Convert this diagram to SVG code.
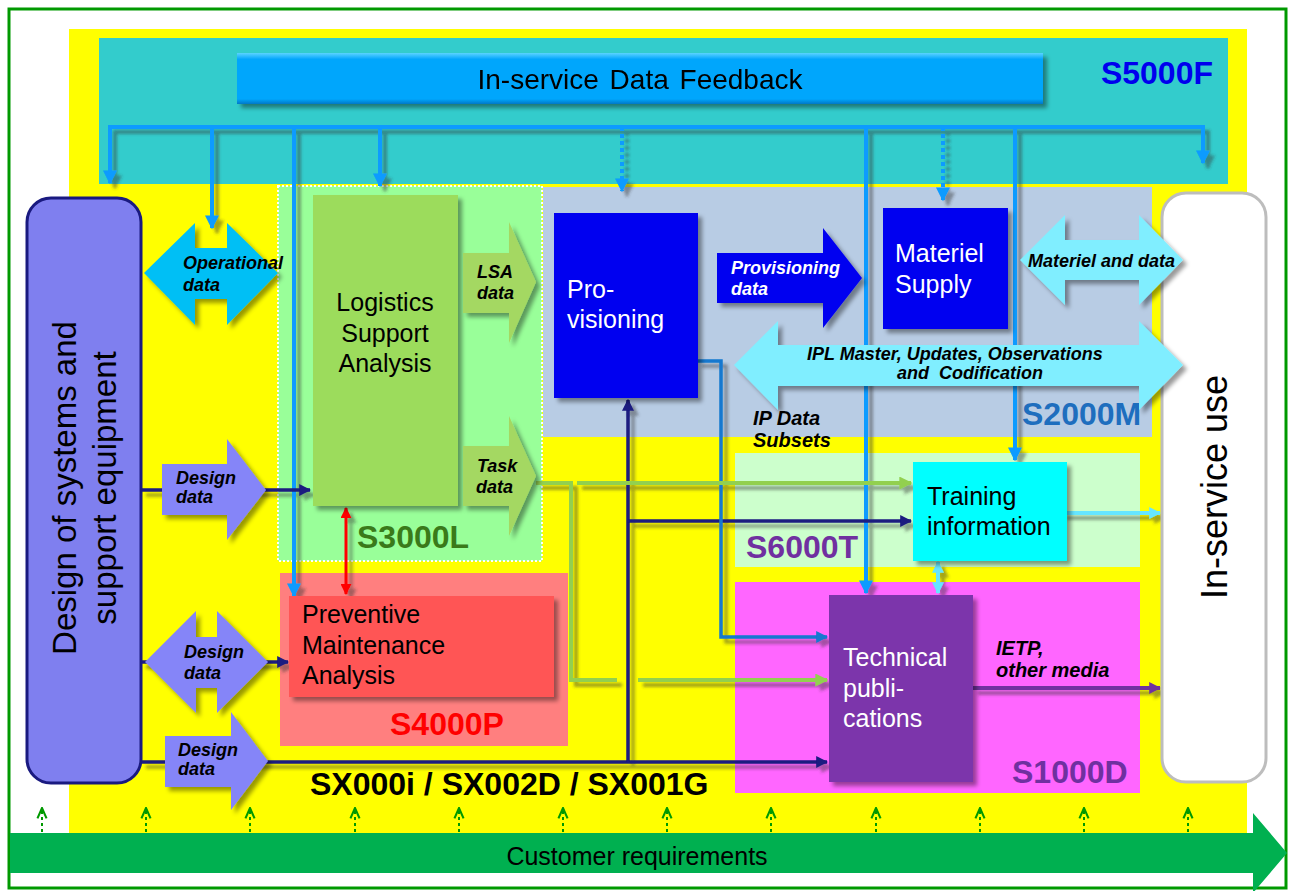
<svg xmlns="http://www.w3.org/2000/svg" width="1293" height="891" viewBox="0 0 1293 891">
<style>
text{font-family:"Liberation Sans",Arial,sans-serif}
.bi{font-weight:bold;font-style:italic;font-size:18px;fill:#000}
.box{font-size:25px}
.std{font-weight:bold;font-size:32px}
.fb{fill:none;stroke:#0A9BFF;stroke-width:4}
.nv{fill:none;stroke:#1A1A80;stroke-width:3.5}
.gr{fill:none;stroke:#92D050;stroke-width:4}
.cr{fill:none;stroke:#009900;stroke-width:2;stroke-dasharray:3 3}
</style>
<defs>
<filter id="sh" filterUnits="userSpaceOnUse" x="0" y="0" width="1293" height="891">
<feDropShadow dx="4" dy="4" stdDeviation="2" flood-color="#000" flood-opacity="0.4"/>
</filter>
<filter id="lsh" filterUnits="userSpaceOnUse" x="0" y="0" width="1293" height="891">
<feDropShadow dx="5" dy="5" stdDeviation="1.8" flood-color="#333" flood-opacity="0.45"/>
</filter>
<linearGradient id="barG" x1="0" y1="0" x2="0" y2="1">
<stop offset="0" stop-color="#5AD4FF"/><stop offset="0.12" stop-color="#05A6FC"/><stop offset="0.9" stop-color="#05A6FC"/><stop offset="1" stop-color="#0478C8"/>
</linearGradient>
<marker id="aFb" viewBox="0 0 10 10" refX="9" refY="5" markerWidth="14" markerHeight="14" markerUnits="userSpaceOnUse" orient="auto-start-reverse"><path d="M0,0 L10,5 L0,10 z" fill="#0A9BFF"/></marker>
<marker id="aNv" viewBox="0 0 10 10" refX="9" refY="5" markerWidth="12" markerHeight="12" markerUnits="userSpaceOnUse" orient="auto-start-reverse"><path d="M0,0 L10,5 L0,10 z" fill="#1A1A80"/></marker>
<marker id="aBl" viewBox="0 0 10 10" refX="9" refY="5" markerWidth="12" markerHeight="12" markerUnits="userSpaceOnUse" orient="auto-start-reverse"><path d="M0,0 L10,5 L0,10 z" fill="#1278CF"/></marker>
<marker id="aGr" viewBox="0 0 10 10" refX="9" refY="5" markerWidth="13" markerHeight="13" markerUnits="userSpaceOnUse" orient="auto-start-reverse"><path d="M0,0 L10,5 L0,10 z" fill="#92D050"/></marker>
<marker id="aRd" viewBox="0 0 10 10" refX="9" refY="5" markerWidth="11" markerHeight="11" markerUnits="userSpaceOnUse" orient="auto-start-reverse"><path d="M0,0 L10,5 L0,10 z" fill="#FF0000"/></marker>
<marker id="aCy" viewBox="0 0 10 10" refX="9" refY="5" markerWidth="12" markerHeight="12" markerUnits="userSpaceOnUse" orient="auto-start-reverse"><path d="M0,0 L10,5 L0,10 z" fill="#66E6FF"/></marker>
<marker id="aPu" viewBox="0 0 10 10" refX="9" refY="5" markerWidth="12" markerHeight="12" markerUnits="userSpaceOnUse" orient="auto-start-reverse"><path d="M0,0 L10,5 L0,10 z" fill="#7030A0"/></marker>
<marker id="aUp" viewBox="0 0 10 10" refX="9" refY="5" markerWidth="13" markerHeight="13" markerUnits="userSpaceOnUse" orient="auto"><path d="M1,1.5 L9,5 L1,8.5" fill="none" stroke="#009900" stroke-width="1.6"/></marker>
</defs>

<!-- backgrounds and regions -->
<rect x="0" y="0" width="1293" height="891" fill="#FFFFFF"/>
<rect x="9" y="9" width="1277" height="879" fill="none" stroke="#009900" stroke-width="3"/>
<rect x="69" y="29" width="1178" height="805" fill="#FFFF00"/>
<g id="region-S5000F">
<rect x="99" y="38" width="1129" height="146" fill="#33CCCC"/>
<text x="1213" y="84" class="std" fill="#0000EE" text-anchor="end">S5000F</text>
</g>
<g id="region-S3000L">
<rect x="278" y="186" width="264" height="375" fill="#99FF99" stroke="#FFFFFF" stroke-width="2" stroke-dasharray="2 2"/>
<text x="357" y="548" class="std" fill="#3A7A1A">S3000L</text>
</g>
<g id="region-S2000M">
<rect x="543" y="187" width="609" height="250" fill="#B8CCE4"/>
<text x="1022" y="425" class="std" fill="#1E6EBE">S2000M</text>
</g>
<g id="region-S4000P">
<rect x="280" y="573" width="288" height="173" fill="#FF7F7F"/>
<text x="390" y="735" class="std" fill="#FF0000">S4000P</text>
</g>
<g id="region-S6000T">
<rect x="735" y="453" width="405" height="114" fill="#CCFFCC"/>
<text x="746" y="558" class="std" fill="#7030A0">S6000T</text>
</g>
<g id="region-S1000D">
<rect x="735" y="582" width="405" height="211" fill="#FF66FF"/>
<text x="1012" y="783" class="std" fill="#7030A0">S1000D</text>
</g>
<text x="310" y="795" font-weight="bold" font-size="32" fill="#000">SX000i / SX002D / SX001G</text>

<!-- connectors -->
<g id="connectors" filter="url(#lsh)">
<path class="fb" d="M108,127 H1203"/>
<path class="fb" d="M110,127 V183" marker-end="url(#aFb)"/>
<path class="fb" d="M212,127 V228" marker-end="url(#aFb)"/>
<path class="fb" d="M294,127 V596" marker-end="url(#aFb)"/>
<path class="fb" d="M380,127 V186" marker-end="url(#aFb)"/>
<path class="fb" d="M622,127 V191" stroke-dasharray="4 3" marker-end="url(#aFb)"/>
<path class="fb" d="M866,127 V593" marker-end="url(#aFb)"/>
<path class="fb" d="M943,127 V200" stroke-dasharray="4 3" marker-end="url(#aFb)"/>
<path class="fb" d="M1015,127 V460" marker-end="url(#aFb)"/>
<path class="fb" d="M1203,125 V163" marker-end="url(#aFb)"/>

<path class="nv" d="M141,490 H310" marker-end="url(#aNv)"/>
<path class="nv" d="M141,662 H288" marker-end="url(#aNv)"/>
<path class="nv" d="M141,762 H827" marker-end="url(#aNv)"/>
<path class="nv" d="M628,762 V400" marker-end="url(#aNv)"/>
<path class="nv" d="M628,521 H911" marker-end="url(#aNv)"/>

<path d="M697,361 H721 V637 H827" fill="none" stroke="#1278CF" stroke-width="3.5" marker-end="url(#aBl)"/>

<path class="gr" d="M536,483 H571 V680 H617"/>
<path class="gr" d="M638,680 H827" marker-end="url(#aGr)"/>
<path class="gr" d="M577,483 H911" marker-end="url(#aGr)"/>

<path d="M346,508 V594" fill="none" stroke="#FF0000" stroke-width="3" marker-start="url(#aRd)" marker-end="url(#aRd)"/>
<path d="M938,562 V593" fill="none" stroke="#66E6FF" stroke-width="4" marker-start="url(#aCy)" marker-end="url(#aCy)"/>
<path d="M1062,513 H1160" fill="none" stroke="#66E6FF" stroke-width="4" marker-end="url(#aCy)"/>
<path d="M973,688 H1160" fill="none" stroke="#7030A0" stroke-width="4" marker-end="url(#aPu)"/>
</g>

<!-- customer requirements -->
<g id="customer-requirements">
<polygon points="10,833 1253,833 1253,813 1287,853 1253,893 1253,873 10,873" fill="#00B050"/>
<text x="637" y="865" font-size="25" fill="#000" text-anchor="middle">Customer requirements</text>
<g id="requirement-arrows">
<path class="cr" d="M42,832 V808" marker-end="url(#aUp)"/>
<path class="cr" d="M146,832 V808" marker-end="url(#aUp)"/>
<path class="cr" d="M250,832 V808" marker-end="url(#aUp)"/>
<path class="cr" d="M355,832 V808" marker-end="url(#aUp)"/>
<path class="cr" d="M459,832 V808" marker-end="url(#aUp)"/>
<path class="cr" d="M563,832 V808" marker-end="url(#aUp)"/>
<path class="cr" d="M667,832 V808" marker-end="url(#aUp)"/>
<path class="cr" d="M771,832 V808" marker-end="url(#aUp)"/>
<path class="cr" d="M876,832 V808" marker-end="url(#aUp)"/>
<path class="cr" d="M980,832 V808" marker-end="url(#aUp)"/>
<path class="cr" d="M1084,832 V808" marker-end="url(#aUp)"/>
<path class="cr" d="M1188,832 V808" marker-end="url(#aUp)"/>
</g>
</g>

<!-- nodes -->
<g id="feedback" filter="url(#sh)">
<rect x="237" y="53" width="806" height="51" fill="url(#barG)"/>
<text x="640" y="89" font-size="28" fill="#000" text-anchor="middle" word-spacing="3">In-service Data Feedback</text>
</g>

<g id="design">
<rect x="27" y="198" width="114" height="585" rx="24" fill="#7F7FEF" stroke="#1A1A80" stroke-width="3"/>
<text transform="translate(76,488) rotate(-90)" font-size="33" fill="#000" text-anchor="middle">Design of systems and</text>
<text transform="translate(116,488) rotate(-90)" font-size="33" fill="#000" text-anchor="middle">support equipment</text>
</g>

<g id="in-service-use">
<rect x="1162" y="193" width="104" height="589" rx="24" fill="#FFFFFF" stroke="#BDBDBD" stroke-width="3"/>
<text transform="translate(1227,487) rotate(-90)" font-size="36" fill="#000" text-anchor="middle">In-service use</text>
</g>

<g id="operational-data">
<polygon points="144,273 195,223 195,248 227,248 227,223 278,273 227,325 227,299 195,299 195,325" fill="#00BFF5" filter="url(#sh)"/>
<text x="183" y="269" class="bi">Operational</text>
<text x="183" y="291" class="bi">data</text>
</g>

<g id="design-data-1">
<polygon points="162,464 227,464 227,439 266,490 227,540 227,515 162,515" fill="#8585F8" filter="url(#sh)"/>
<text x="176" y="484" class="bi">Design</text>
<text x="176" y="503" class="bi">data</text>
</g>

<g id="design-data-2">
<polygon points="145,662 196,611 196,637 217,637 217,611 268,662 217,713 217,688 196,688 196,713" fill="#8585F8" filter="url(#sh)"/>
<text x="184" y="658" class="bi">Design</text>
<text x="184" y="679" class="bi">data</text>
</g>

<g id="design-data-3">
<polygon points="165,736 231,736 231,712 268,761 231,810 231,787 165,787" fill="#8585F8" filter="url(#sh)"/>
<text x="178" y="756" class="bi">Design</text>
<text x="178" y="775" class="bi">data</text>
</g>

<g id="lsa">
<rect x="313" y="195" width="145" height="311" fill="#9CDC5C" filter="url(#sh)"/>
<text x="385" y="311" class="box" text-anchor="middle">Logistics</text>
<text x="385" y="342" class="box" text-anchor="middle">Support</text>
<text x="385" y="372" class="box" text-anchor="middle">Analysis</text>
</g>

<g id="lsa-data">
<polygon points="463,253 509,253 509,222 536,282 509,343 509,313 463,313" fill="#A4D862" filter="url(#sh)"/>
<text x="477" y="278" class="bi">LSA</text>
<text x="477" y="299" class="bi">data</text>
</g>

<g id="task-data">
<polygon points="463,446 509,446 509,416 536,476 509,536 509,506 463,506" fill="#A4D862" filter="url(#sh)"/>
<text x="477" y="472" class="bi">Task</text>
<text x="476" y="493" class="bi">data</text>
</g>

<g id="pma">
<rect x="289" y="596" width="265" height="101" fill="#FF5555" filter="url(#sh)"/>
<text x="302" y="623" class="box">Preventive</text>
<text x="302" y="654" class="box">Maintenance</text>
<text x="302" y="684" class="box">Analysis</text>
</g>

<g id="provisioning">
<rect x="554" y="213" width="144" height="185" fill="#0000F0" filter="url(#sh)"/>
<text x="567" y="298" class="box" fill="#FFFFFF">Pro-</text>
<text x="567" y="328" class="box" fill="#FFFFFF">visioning</text>
</g>

<g id="provisioning-data">
<polygon points="717,253 823,253 823,228 862,278 823,328 823,303 717,303" fill="#0000F0" filter="url(#sh)"/>
<text x="731" y="274" class="bi" style="fill:#FFFFFF">Provisioning</text>
<text x="731" y="295" class="bi" style="fill:#FFFFFF">data</text>
</g>

<g id="materiel-supply">
<rect x="883" y="208" width="125" height="121" fill="#0000F0" filter="url(#sh)"/>
<text x="895" y="262" class="box" fill="#FFFFFF">Materiel</text>
<text x="895" y="293" class="box" fill="#FFFFFF">Supply</text>
</g>

<g id="materiel-and-data">
<polygon points="1020,260 1065,215 1065,240 1139,240 1139,215 1183,260 1139,305 1139,280 1065,280 1065,305" fill="#80EEFF" filter="url(#sh)"/>
<text x="1028" y="267" class="bi">Materiel and data</text>
</g>

<g id="ipl">
<polygon points="734,365 778,321 778,345 1139,345 1139,321 1183,365 1139,410 1139,386 778,386 778,410" fill="#80EEFF" filter="url(#sh)"/>
<text x="807" y="360" class="bi">IPL Master, Updates, Observations</text>
<text x="897" y="379" class="bi" xml:space="preserve">and  Codification</text>
</g>

<g id="ip-data-subsets">
<text x="753" y="425" class="bi" style="font-size:20px">IP Data</text>
<text x="753" y="447" class="bi" style="font-size:20px">Subsets</text>
</g>

<g id="training">
<rect x="913" y="462" width="154" height="99" fill="#00FFFF" filter="url(#sh)"/>
<text x="927" y="505" class="box">Training</text>
<text x="927" y="535" class="box">information</text>
</g>

<g id="technical-publications">
<rect x="829" y="595" width="144" height="187" fill="#7B35AB" filter="url(#sh)"/>
<text x="843" y="666" class="box" fill="#FFFFFF">Technical</text>
<text x="843" y="697" class="box" fill="#FFFFFF">publi-</text>
<text x="843" y="727" class="box" fill="#FFFFFF">cations</text>
</g>

<g id="ietp">
<text x="996" y="655" class="bi" style="font-size:20px">IETP,</text>
<text x="996" y="677" class="bi" style="font-size:20px">other media</text>
</g>
</svg>
